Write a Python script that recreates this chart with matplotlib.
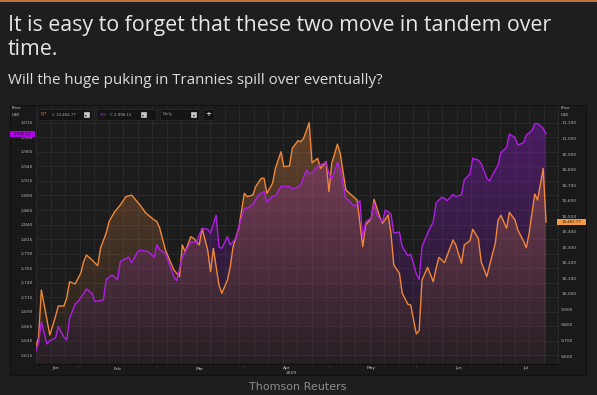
import numpy as np
import pandas as pd
import matplotlib
matplotlib.use("Agg")
import matplotlib.pyplot as plt
import matplotlib.dates as mdates
from matplotlib.patches import Rectangle, PathPatch

# DJT (Dow Transports) and SPX closes, 2019
# day = day of year 2019
djt_day = [17, 18, 19, 21, 22, 24, 25, 27, 28, 29,
           31, 33, 34, 35, 37, 39, 40, 42, 43, 45,
           47, 49, 51, 53, 54, 56, 59, 60, 61, 63,
           66, 68, 69, 70, 72, 73, 75, 76, 78, 79,
           80, 82, 83, 85, 86, 87, 89, 91, 92, 94,
           95, 97, 98, 99, 101, 102, 104, 105, 107, 108,
           110, 111, 112, 114, 115, 117, 118, 120, 121, 122,
           124, 125, 127, 129, 131, 133, 134, 136, 137, 139,
           140, 142, 143, 144, 146, 147, 149, 150, 152, 153,
           154, 156, 158, 159, 160, 162, 163, 165, 166, 168,
           169, 171, 172, 174, 175, 177, 178, 180, 181, 182,
           184, 185, 187, 188, 190, 191, 192, 194, 195, 197,
           198]
djt_close = [9660, 9716, 10025, 9832, 9735, 9853, 9922, 9922, 9973, 10078,
             10064, 10134, 10207, 10250, 10218, 10181, 10295, 10392, 10465, 10529,
             10572, 10626, 10636, 10593, 10572, 10521, 10476, 10465, 10422, 10282,
             10154, 10111, 10315, 10271, 10368, 10358, 10315, 10422, 10282, 10143,
             10293, 10057, 10004, 10089, 10175, 10304, 10422, 10647, 10626, 10636,
             10690, 10744, 10744, 10647, 10712, 10808, 10915, 10819, 10823, 10937,
             10986, 10980, 11001, 11102, 10844, 10873, 10808, 10851, 10658, 10840,
             10963, 10905, 10669, 10636, 10604, 10304, 10443, 10486, 10609, 10497,
             10454, 10508, 10390, 10186, 10132, 10004, 9933, 9928, 9742, 9763,
             10089, 10171, 10078, 10165, 10235, 10201, 10250, 10347, 10315, 10197,
             10315, 10342, 10416, 10358, 10207, 10111, 10186, 10325, 10476, 10506,
             10422, 10525, 10476, 10411, 10340, 10297, 10390, 10643, 10604, 10808,
             10462.77]

spx_day = [17, 18, 19, 21, 22, 24, 25, 27, 28, 29,
           31, 32, 34, 35, 37, 38, 41, 42, 44, 46,
           47, 50, 51, 53, 54, 57, 59, 60, 61, 63,
           66, 67, 69, 70, 72, 74, 75, 76, 78, 79,
           81, 82, 83, 85, 86, 88, 89, 91, 92, 94,
           96, 98, 99, 101, 102, 104, 107, 108, 110, 111,
           113, 114, 115, 117, 118, 120, 121, 122, 124, 125,
           127, 128, 130, 132, 133, 134, 136, 137, 138, 140,
           141, 143, 144, 146, 147, 149, 150, 152, 153, 154,
           156, 158, 159, 161, 162, 163, 165, 166, 168, 169,
           171, 172, 174, 175, 177, 178, 179, 181, 182, 184,
           185, 187, 188, 190, 191, 193, 194, 195, 197, 198]
spx_close = [2621, 2636, 2672, 2634, 2640, 2644, 2664, 2646, 2641, 2678,
             2703, 2707, 2721, 2729, 2721, 2707, 2710, 2745, 2753, 2745,
             2776, 2784, 2774, 2792, 2796, 2793, 2784, 2805, 2796, 2790,
             2750, 2743, 2784, 2793, 2810, 2809, 2822, 2833, 2832, 2825,
             2856, 2801, 2799, 2819, 2805, 2816, 2836, 2868, 2868, 2875,
             2891, 2897, 2879, 2889, 2889, 2906, 2906, 2901, 2905, 2908,
             2934, 2928, 2928, 2941, 2943, 2947, 2928, 2918, 2947, 2935,
             2885, 2882, 2871, 2881, 2817, 2845, 2851, 2877, 2856, 2845,
             2865, 2858, 2825, 2827, 2802, 2786, 2789, 2755, 2745, 2802,
             2825, 2845, 2877, 2887, 2885, 2881, 2892, 2888, 2891, 2917,
             2927, 2954, 2951, 2945, 2920, 2915, 2925, 2943, 2964, 2973,
             2996, 2990, 2977, 2981, 2994, 3002, 3014, 3014, 3006, 2996.13]

spx_ticks = list(range(2615, 3016, 25))
djt_ticks = list(range(9600, 11101, 100))
month_names = ["Jan", "Feb", "Mar", "Apr", "May", "Jun", "Jul"]
month_label_dates = ["2019-01-24", "2019-02-15", "2019-03-16", "2019-04-16",
                     "2019-05-16", "2019-06-16", "2019-07-10"]
month_starts = ["2019-02-01", "2019-03-01", "2019-04-01", "2019-05-01",
                "2019-06-01", "2019-07-01"]

title = "It is easy to forget that these two move in tandem over\ntime."
subtitle = "Will the huge puking in Trannies spill over eventually?"

ORANGE = "#f0883a"
PURPLE = "#b01ee6"
BG = "#1e1e1e"

W, H = 597, 395


def fx(x):
    return x / W


def fy(y):
    return 1 - y / H


def to_num(days):
    d = pd.Timestamp("2019-01-01") + pd.to_timedelta(np.array(days) - 1, unit="D")
    return mdates.date2num(d)


def grad_fill(ax, x, y, rgb, a_top, a_bot):
    x0, x1 = ax.get_xlim()
    y0, y1 = ax.get_ylim()
    poly = ax.fill_between(x, y, y0, facecolor="none", edgecolor="none")
    patch = PathPatch(poly.get_paths()[0], transform=ax.transData,
                      facecolor="none", edgecolor="none")
    ax.add_patch(patch)
    img = np.zeros((256, 1, 4))
    img[:, 0, :3] = rgb
    img[:, 0, 3] = np.linspace(a_top, a_bot, 256)
    im = ax.imshow(img, aspect="auto", extent=[x0, x1, y0, y1], origin="upper",
                   interpolation="bilinear", zorder=1)
    im.set_clip_path(patch)


fig = plt.figure(figsize=(5.97, 3.95), dpi=100, facecolor=BG)

# thin orange rule at the very top
fig.add_artist(Rectangle((0, fy(1.5)), 1, 1.5 / H, transform=fig.transFigure,
                         color="#b8733a", lw=0))

fig.text(fx(8), fy(31.5), title.split("\n")[0], color="#e6e6e6", fontsize=15.4,
         family="Open Sans", va="baseline", ha="left")
fig.text(fx(8), fy(55), title.split("\n")[1], color="#e6e6e6", fontsize=15.4,
         family="Open Sans", va="baseline", ha="left")
fig.text(fx(8), fy(83.5), subtitle, color="#dcdcdc", fontsize=10.9,
         family="Open Sans", va="baseline", ha="left")

# chart panel
fig.add_artist(Rectangle((fx(10), fy(375)), fx(586) - fx(10), fy(105) - fy(375),
                         transform=fig.transFigure, facecolor="#191919",
                         edgecolor="#111111", lw=0.8, zorder=-1))

ax = fig.add_axes([fx(36), fy(364), fx(559) - fx(36), fy(106) - fy(364)])
ax.set_facecolor("#1c1c1c")
base = mdates.date2num(pd.Timestamp("2019-01-01"))
xlim = (base + 16.1, base + 201.6)
ax.set_xlim(xlim)
ax.set_ylim(2599.5, 3044.3)

ax2 = ax.twinx()
ax2.set_ylim(9548.5, 11209.4)
ax3 = ax.twinx()
ax3.set_ylim(ax.get_ylim())

spx_x = to_num(spx_day)
djt_x = to_num(djt_day)

grad_fill(ax, spx_x, spx_close, (140 / 255, 30 / 255, 200 / 255), 0.44, 0.04)
grad_fill(ax2, djt_x, djt_close, (225 / 255, 135 / 255, 70 / 255), 0.38, 0.03)
ax2.plot(djt_x, djt_close, color=ORANGE, lw=1.0, zorder=3)
ax3.plot(spx_x, spx_close, color=PURPLE, lw=1.0, zorder=3)

for a in (ax, ax2, ax3):
    a.set_xlim(xlim)
    for s in a.spines.values():
        s.set_visible(False)
ax.set_ylim(2599.5, 3044.3)
ax3.set_ylim(ax.get_ylim())
ax2.set_ylim(9548.5, 11209.4)
ax3.axis("off")

# grid: horizontal at left ticks, vertical evenly spaced
ax.set_yticks(spx_ticks)
ax.set_yticklabels([f"{v:,}" for v in spx_ticks])
ax.tick_params(axis="y", length=0, pad=2.2, labelsize=3.2, labelcolor="#b4b4b4")
ax.grid(axis="y", color="#2c2c2c", lw=0.6)
ax.set_axisbelow(True)
step = 14.5 / (559 - 36)
ax.vlines(np.arange(0, 1.001, step), 0, 1, transform=ax.transAxes,
          color="#2c2c2c", lw=0.6, zorder=0.5)

ax2.set_yticks(djt_ticks)
ax2.set_yticklabels([f"{v:,}" for v in djt_ticks])
ax2.tick_params(axis="y", length=0, pad=1.6, labelsize=3.2, labelcolor="#b4b4b4")

ax.set_xticks(mdates.date2num(pd.to_datetime(month_label_dates)))
ax.set_xticklabels(month_names)
ax.set_xticks(mdates.date2num(pd.to_datetime(month_starts)), minor=True)
ax.tick_params(axis="x", which="major", length=0, pad=1.8, labelsize=3.2,
               labelcolor="#c4c4c4")
ax.tick_params(axis="x", which="minor", length=2.2, width=0.5, color="#3a3a3a")
ax.spines["bottom"].set_visible(True)
ax.spines["bottom"].set_color("#0e0e0e")
ax.spines["bottom"].set_linewidth(0.9)
fig.text(fx(291), fy(373.3), "2019", color="#c4c4c4", fontsize=3.2,
         ha="center", va="center")

# Price / USD captions
for xx in (12, 561):
    fig.text(fx(xx), fy(108), "Price", color="#d0d0d0", fontsize=2.8,
             ha="left", va="center")
    fig.text(fx(xx), fy(114.5), "USD", color="#d0d0d0", fontsize=2.8,
             ha="left", va="center")

# toolbar boxes
def box(x0, x1, y0=109, y1=120, fc="#141414", ec="#2a2a2a"):
    fig.add_artist(Rectangle((fx(x0), fy(y1)), fx(x1) - fx(x0), fy(y0) - fy(y1),
                             transform=fig.transFigure, facecolor=fc,
                             edgecolor=ec, lw=0.5, zorder=5))

box(37.5, 91.5)
box(95.5, 155.5)
box(159.5, 198.5)
box(203, 214)
for sx in (83.5, 140.5, 191):
    box(sx, sx + 5.5, 112, 117, fc="#c8c8c8", ec="#c8c8c8")
    fig.text(fx(sx + 2.75), fy(114.6), "\u25be", color="#111111", fontsize=2.6,
             ha="center", va="center", zorder=6)
fig.text(fx(40.5), fy(114.5), "DJT", color=ORANGE, fontsize=2.8, va="center", zorder=6)
fig.text(fx(51.5), fy(114.5), "C 10,462.77", color="#b0b0b0", fontsize=2.8,
         va="center", zorder=6)
fig.text(fx(100), fy(114.5), "SPX", color=PURPLE, fontsize=2.8, va="center", zorder=6)
fig.text(fx(110.5), fy(114.5), "C 2,996.13", color="#b0b0b0", fontsize=2.8,
         va="center", zorder=6)
fig.text(fx(163), fy(114.5), "Daily", color="#b0b0b0", fontsize=2.8,
         va="center", zorder=6)
fig.text(fx(208.5), fy(114.3), "+", color="#cfcfcf", fontsize=5, weight="bold",
         ha="center", va="center", zorder=6)

# last-value tags
fig.add_artist(Rectangle((fx(9.5), fy(136.7)), fx(34.5) - fx(9.5), fy(130.7) - fy(136.7),
                         transform=fig.transFigure, facecolor="#b000e6", lw=0, zorder=5))
fig.text(fx(22), fy(133.7), "2,996.13", color="#2a0038", fontsize=2.8,
         ha="center", va="center", zorder=6)
fig.add_artist(Rectangle((fx(557.3), fy(225.3)), fx(585.7) - fx(557.3), fy(219.3) - fy(225.3),
                         transform=fig.transFigure, facecolor="#f29a48", lw=0, zorder=5))
fig.text(fx(571.5), fy(222.3), "10,462.77", color="#3a1800", fontsize=2.8,
         ha="center", va="center", zorder=6)

fig.text(fx(298), fy(386.7), "Thomson Reuters", color="#8c8c8c", fontsize=8,
         ha="center", va="center")

fig.savefig("out.png", dpi=100, facecolor=BG)
